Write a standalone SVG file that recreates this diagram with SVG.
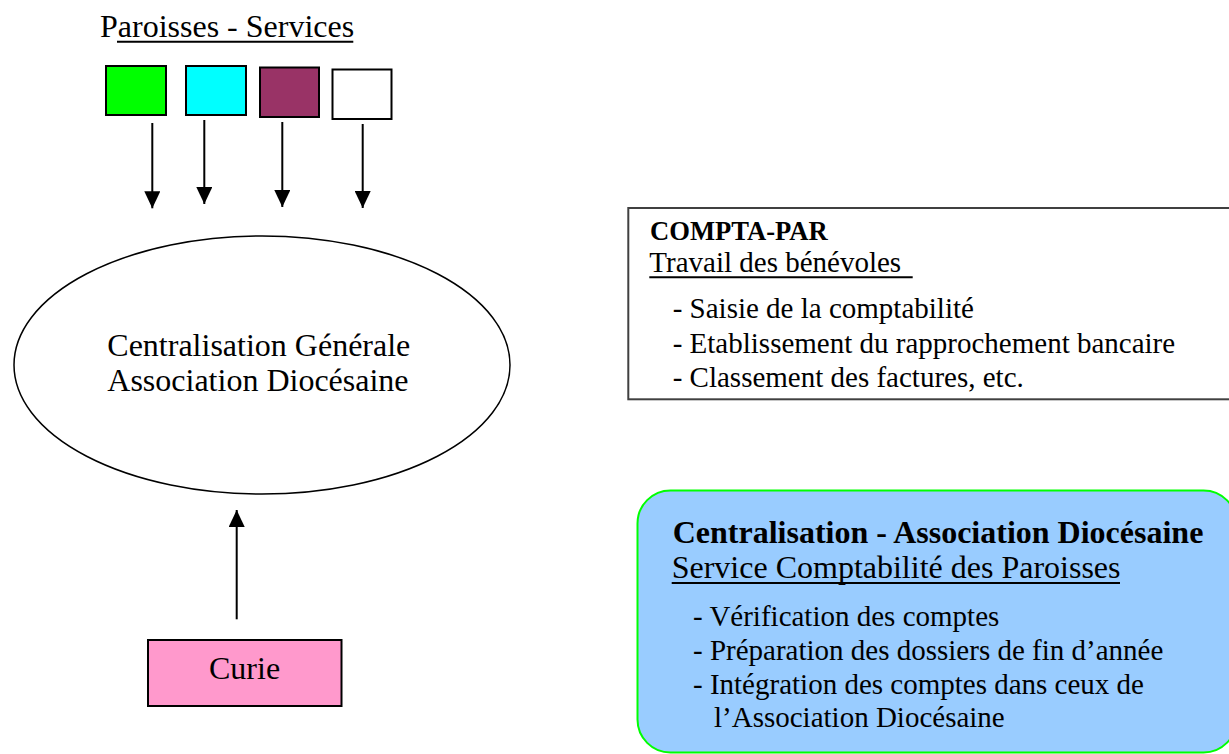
<svg xmlns="http://www.w3.org/2000/svg" width="1229" height="754" viewBox="0 0 1229 754">
  <style>
    .t { font-family: "Liberation Serif", "Times New Roman", serif; fill: #000; }
    .r32 { font-size: 32px; }
    .r29 { font-size: 29px; }
    .b32 { font-size: 32px; font-weight: bold; }
    .b27 { font-size: 26.6px; font-weight: bold; }
    .sq { stroke: #000; stroke-width: 2; }
    .ul { stroke: #000; stroke-width: 2; }
    .conn { stroke: #000; stroke-width: 2; fill: none; }
  </style>
  <defs>
    <marker id="ah" markerUnits="userSpaceOnUse" markerWidth="17" markerHeight="16" refX="17" refY="8" orient="auto">
      <path d="M0,0 L17,8 L0,16 Z" fill="#000"/>
    </marker>
  </defs>
  <rect width="1229" height="754" fill="#fff"/>

  <g id="title">
    <text class="t r32" x="100" y="36.7">Paroisses - Services</text>
    <line class="ul" x1="117" y1="41.7" x2="353.3" y2="41.7"/>
  </g>

  <g id="sq-green"><rect class="sq" x="106" y="66" width="60" height="49" fill="#00ff00"/></g>
  <g id="sq-cyan"><rect class="sq" x="186" y="66" width="60" height="49" fill="#00ffff"/></g>
  <g id="sq-purple"><rect class="sq" x="260" y="67.5" width="59" height="49.5" fill="#993366"/></g>
  <g id="sq-white"><rect class="sq" x="332.5" y="69.5" width="59" height="49.5" fill="#ffffff"/></g>

  <g id="ellipse-centralisation">
    <ellipse cx="262" cy="365" rx="248" ry="129" fill="#fff" stroke="#000" stroke-width="1.5"/>
    <text class="t r32" x="107.3" y="356">Centralisation Générale</text>
    <text class="t r32" x="107.3" y="390.7">Association Diocésaine</text>
  </g>

  <g id="curie">
    <rect x="148" y="640" width="193.5" height="66" fill="#ff99cc" stroke="#000" stroke-width="2"/>
    <text class="t r32" x="209" y="679.3">Curie</text>
  </g>

  <g id="compta-par">
    <rect x="628.3" y="208" width="620" height="191.3" fill="#fff" stroke="#404040" stroke-width="2"/>
    <text class="t b27" x="650" y="240">COMPTA-PAR</text>
    <text class="t r29" x="649.3" y="271.7">Travail des bénévoles </text>
    <line class="ul" x1="649.3" y1="277.3" x2="912.7" y2="277.3"/>
    <text class="t r29" x="672.7" y="318.3">- Saisie de la comptabilité</text>
    <text class="t r29" x="672.7" y="353">- Etablissement du rapprochement bancaire</text>
    <text class="t r29" x="672.7" y="386.7">- Classement des factures, etc.</text>
  </g>

  <g id="centralisation-service">
    <rect x="637.5" y="490.5" width="599" height="262" rx="33" ry="33" fill="#99ccff" stroke="#00ff00" stroke-width="2"/>
    <text class="t b32" x="672.7" y="542.7">Centralisation - Association Diocésaine</text>
    <text class="t r32" x="671.7" y="578.3">Service Comptabilité des Paroisses</text>
    <line class="ul" x1="671.7" y1="583" x2="1120" y2="583"/>
    <text class="t r29" x="693" y="626">- Vérification des comptes</text>
    <text class="t r29" x="693" y="660">- Préparation des dossiers de fin d’année</text>
    <text class="t r29" x="693" y="693.5">- Intégration des comptes dans ceux de</text>
    <text class="t r29" x="714" y="727">l’Association Diocésaine</text>
  </g>

  <g id="connectors">
    <line class="conn" x1="152.3" y1="123" x2="152.3" y2="208.3" marker-end="url(#ah)"/>
    <line class="conn" x1="204.3" y1="120" x2="204.3" y2="204" marker-end="url(#ah)"/>
    <line class="conn" x1="282.3" y1="122" x2="282.3" y2="207" marker-end="url(#ah)"/>
    <line class="conn" x1="362.7" y1="124" x2="362.7" y2="208" marker-end="url(#ah)"/>
    <line class="conn" x1="236.7" y1="619.3" x2="236.7" y2="510" marker-end="url(#ah)"/>
  </g>
</svg>
